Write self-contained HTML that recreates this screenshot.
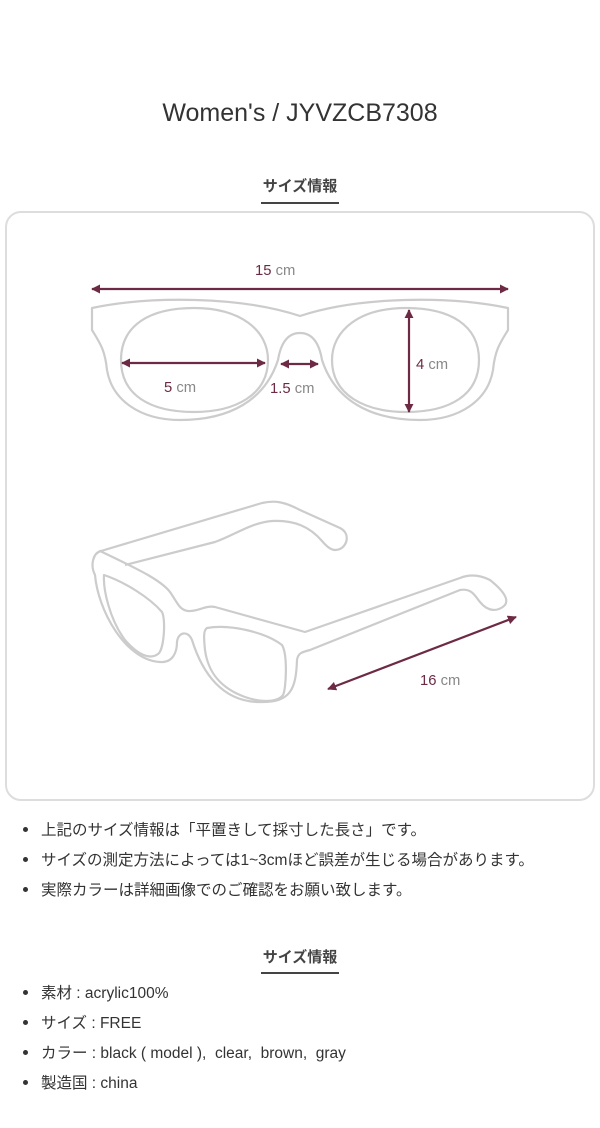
<!DOCTYPE html>
<html><head><meta charset="utf-8"><style>
*{margin:0;padding:0;box-sizing:border-box}
body{width:600px;height:1128px;background:#fff;position:relative;overflow:hidden;font-family:"Liberation Sans","Noto Sans CJK JP",sans-serif;color:#333}
.t{position:absolute;white-space:nowrap}
.h{position:absolute;left:0;width:600px;text-align:center;font-weight:bold;font-size:15px;color:#444}
.ul{position:absolute;left:261px;width:78px;height:2px;background:#444}
.b{position:absolute;left:22px;font-size:15.5px;white-space:nowrap;color:#333}
.b:before{content:"";position:absolute;left:1px;top:9px;width:5px;height:5px;border-radius:50%;background:#333}
.b span{margin-left:19px}
</style></head><body>
<div class="t" style="left:0;width:600px;text-align:center;top:99px;font-size:25px;color:#333">Women's / JYVZCB7308</div>
<div class="h" style="top:175px">サイズ情報</div>
<div class="ul" style="top:202px"></div>
<div style="position:absolute;left:5px;top:211px;width:590px;height:590px;border:2px solid #ddd;border-radius:16px"></div>
<svg style="position:absolute;left:0;top:0" width="600" height="1128" viewBox="0 0 600 1128">
<defs><marker id="a" viewBox="0 0 10 10" refX="9" refY="5" markerUnits="userSpaceOnUse" markerWidth="9" markerHeight="9" orient="auto-start-reverse"><path d="M0,0 L10,5 L0,10 z" fill="#6d2a44"/></marker></defs>
<g fill="none" stroke="#ccc" stroke-width="2.2" stroke-linejoin="round">
<path d="M92,308 C150,296 240,296 300,316 C360,296 450,296 508,308 L508,330 C500,343 495,350 493,370 C488,400 460,420 420,420 C370,420 335,400 322,360 C319,342 312,333 300,333 C288,333 281,342 278,360 C265,400 230,420 180,420 C140,420 112,400 107,370 C105,350 100,343 92,330 Z"/>
<path d="M194,308 C240,308 268,330 268,360 C268,395 235,412 194,412 C150,412 121,395 121,360 C121,325 150,308 194,308 Z"/>
<path d="M406,308 C450,308 479,325 479,360 C479,395 450,412 406,412 C365,412 332,395 332,360 C332,330 360,308 406,308 Z"/>
<path d="M101,551 L262,503 C275,500 285,502 300,510 L340,528 C350,533 348,545 340,549 C333,552 328,548 322,541 C310,527 295,520 272,521 C250,523 235,535 215,542 L125,565"/>
<path d="M101,551 C93,553 90,565 95,575 C98,610 125,660 160,662 C173,663 177,652 177,642 C178,632 188,630 192,640 C202,672 222,703 262,702 C290,702 296,690 297,660 C298,653 302,652 310,650 L460,590 C472,588 475,596 480,602 C488,612 498,612 505,605 C510,598 500,588 490,580 C480,575 470,574 460,578 L305,632 L215,607 C205,605 198,612 188,611 C180,610 178,604 172,595 C165,582 140,570 100,551 Z"/>
<path d="M104,575 C125,582 150,598 162,612 C166,620 164,650 158,654 C150,660 138,655 125,640 C110,620 103,590 104,575 Z"/>
<path d="M207,628 C230,624 265,632 282,645 C288,655 286,690 283,695 C278,702 262,703 245,697 C220,688 208,672 205,650 C204,640 203,630 207,628 Z"/>
</g>
<g stroke="#6d2a44" stroke-width="2.2" fill="none">
<line x1="92" y1="289" x2="508" y2="289" marker-start="url(#a)" marker-end="url(#a)"/>
<line x1="122" y1="363" x2="265" y2="363" marker-start="url(#a)" marker-end="url(#a)"/>
<line x1="281" y1="364" x2="318" y2="364" marker-start="url(#a)" marker-end="url(#a)"/>
<line x1="409" y1="310" x2="409" y2="412" marker-start="url(#a)" marker-end="url(#a)"/>
<line x1="328" y1="689" x2="516" y2="617" marker-start="url(#a)" marker-end="url(#a)"/>
</g>
<g font-family="Liberation Sans, Noto Sans CJK JP, sans-serif" font-size="14.8">
<text x="255" y="275" fill="#6d2a44">15 <tspan fill="#888">cm</tspan></text>
<text x="164" y="392" fill="#6d2a44">5 <tspan fill="#888">cm</tspan></text>
<text x="270" y="393" fill="#6d2a44">1.5 <tspan fill="#888">cm</tspan></text>
<text x="416" y="369" fill="#6d2a44">4 <tspan fill="#888">cm</tspan></text>
<text x="420" y="685" fill="#6d2a44">16 <tspan fill="#888">cm</tspan></text>
</g>
</svg>
<div class="b" style="top:818px"><span>上記のサイズ情報は「平置きして採寸した長さ」です。</span></div>
<div class="b" style="top:848px"><span>サイズの測定方法によっては1~3cmほど誤差が生じる場合があります。</span></div>
<div class="b" style="top:878px"><span>実際カラーは詳細画像でのご確認をお願い致します。</span></div>
<div class="h" style="top:946px">サイズ情報</div>
<div class="ul" style="top:972px"></div>
<div class="b" style="top:981px"><span>素材 : acrylic100%</span></div>
<div class="b" style="top:1011px"><span>サイズ : FREE</span></div>
<div class="b" style="top:1041px"><span>カラー : black ( model ),&nbsp; clear,&nbsp; brown,&nbsp; gray</span></div>
<div class="b" style="top:1071px"><span>製造国 : china</span></div>
</body></html>
